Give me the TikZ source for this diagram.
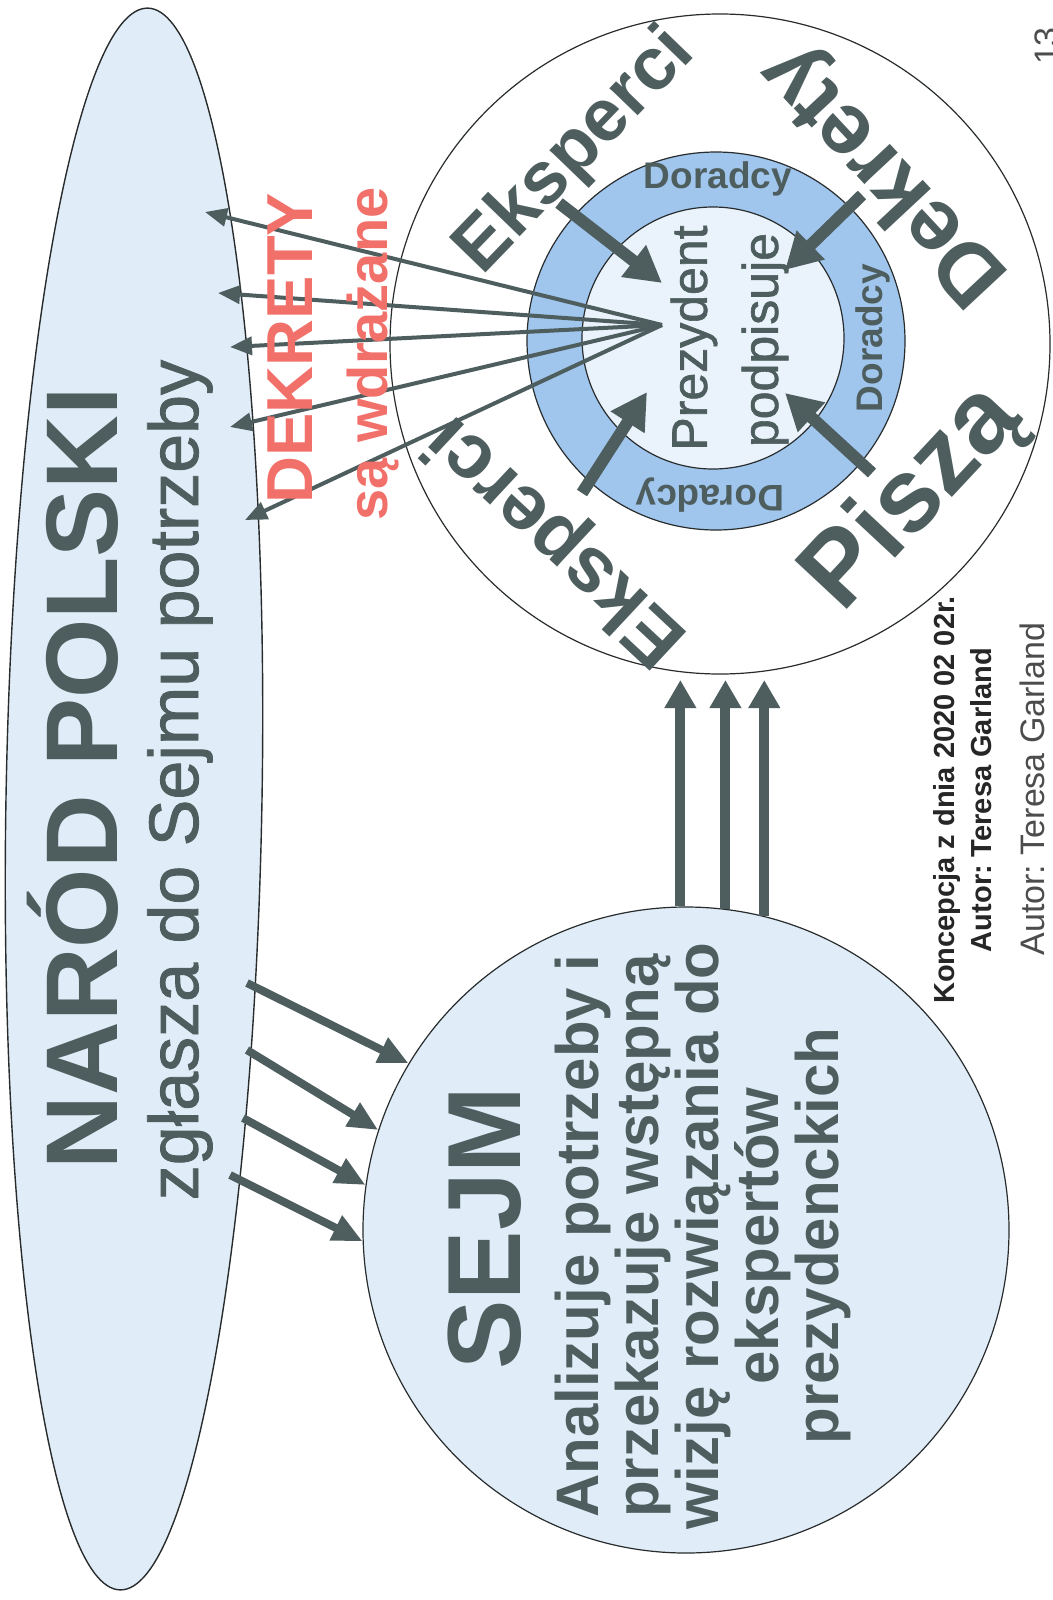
\documentclass[tikz,border=0pt]{standalone}
\usepackage{fontspec}
\setmainfont{Liberation Sans}
\newfontfamily\thick[FakeBold=1.2]{Liberation Sans}
\usetikzlibrary{shapes.geometric,arrows.meta}
\definecolor{slate}{RGB}{78,94,94}
\definecolor{outline}{RGB}{40,44,44}
\definecolor{paleblue}{RGB}{224,236,248}
\definecolor{ringblue}{RGB}{160,198,238}
\definecolor{coreblue}{RGB}{234,242,251}
\definecolor{salmon}{RGB}{242,112,106}
\newcommand{\fs}[1]{\fontsize{#1}{#1}\selectfont}
\frenchspacing

\begin{document}
\begin{tikzpicture}[x=1pt,y=-1pt]
	\tikzset{blob/.style = {draw=outline, line width=1.4pt, fill=paleblue, inner sep=0pt}}
	\tikzset{disc/.style = {circle, draw=outline, line width=1.2pt, inner sep=0pt}}
	\tikzset{word/.style = {text=slate, inner sep=0pt}}
	\tikzset{fanarrow/.style = {draw=slate, line width=4pt, -{Triangle[length=22pt,width=18pt]}}}
	\tikzset{pusharrow/.style = {draw=slate, line width=8pt, -{Triangle[length=30pt,width=26pt]}}}
	\tikzset{uparrow/.style = {draw=slate, line width=10pt, -{Triangle[length=28pt,width=30pt]}}}
	\tikzset{inarrow/.style = {draw=slate, line width=12pt, -{Triangle[length=36pt,width=38pt]}}}
	\useasboundingbox (0,0) rectangle (1052,1600);
	% shapes
	\node[blob, ellipse, minimum width=256pt, minimum height=1582pt, rotate=-1] (narod) at (134,799) {};
	\node[blob, disc, minimum size=646pt] (sejm) at (686,1230) {};
	\node[disc, fill=white, minimum size=660pt] (prez) at (720,344) {};
	\node[disc, fill=ringblue, minimum size=378pt] (doradcy) at (716,341) {};
	\node[disc, fill=coreblue, minimum size=262pt] (rdzen) at (713,338) {};
	% dekrety fan
	\coordinate (fan) at (662,325);
	\foreach \i/\tx/\ty in {1/205/212, 2/218/293, 3/230/347, 4/230/427, 5/245/520} {
		\coordinate (dek\i) at (\tx,\ty);
		\draw[fanarrow] (fan) -- (dek\i);
	}
	% needs to the sejm
	\foreach \i/\sx/\sy/\a in {1/247/983/149, 2/247/1050/162, 3/243/1118/172, 4/230/1175/182} {
		\coordinate (zg\i) at (\sx,\sy);
		\draw[pusharrow] (zg\i) -- (sejm.\a);
	}
	% sejm to the experts
	\coordinate (tipline) at (0,680);
	\foreach \a in {91.1, 83.6, 76.4}
		\draw[uparrow] (sejm.\a) -- (sejm.\a |- tipline);
	% into the president
	\coordinate (ek1) at (559,203);  \coordinate (pz1) at (662,283);
	\coordinate (dk1) at (862,195);  \coordinate (pz2) at (785,270);
	\coordinate (ps1) at (872,473);  \coordinate (pz3) at (785,393);
	\coordinate (ek2) at (582,493);  \coordinate (pz4) at (647,392);
	\draw[inarrow] (ek1) -- (pz1);
	\draw[inarrow] (dk1) -- (pz2);
	\draw[inarrow] (ps1) -- (pz3);
	\draw[inarrow] (ek2) -- (pz4);
	% texts
	\node[word, rotate=90, anchor=base, font=\fs{102}\bfseries] (narodtxt) at (117,778) {NARÓD POLSKI};
	\node[word, rotate=90, anchor=base, font=\fs{70}\thick] (zglasza) at (198,780) {zgłasza do Sejmu potrzeby};
	\node[word, text=salmon, rotate=90, anchor=base, font=\fs{65}\bfseries] (dekrety) at (312,348) {DEKRETY};
	\node[word, text=salmon, rotate=90, anchor=base, font=\fs{56}\bfseries] (wdrazane) at (387,354) {są wdrażane};
	\node[word, font=\fs{37}\bfseries] (dor1) at (718,179) {Doradcy};
	\node[word, rotate=90, font=\fs{37}\bfseries] (dor2) at (873,338) {Doradcy};
	\node[word, rotate=180, font=\fs{37}\bfseries] (dor3) at (710,495) {Doradcy};
	\node[word, rotate=90, font=\fs{50}\thick] (prezydent) at (694,338) {Prezydent};
	\node[word, rotate=90, font=\fs{50}\thick] (podpisuje) at (765,340) {podpisuje};
	\node[word, rotate=46, font=\fs{74}\bfseries] (eksp1) at (576,152) {Eksperci};
	\node[word, rotate=137, font=\fs{78}\bfseries] (eksp2) at (558,539) {Eksperci};
	\node[word, rotate=47, font=\fs{104}\bfseries] (pisza) at (914,499) {Piszą};
	\node[word, rotate=133, font=\fs{87}\bfseries] (dekr) at (886,173) {Dekrety};
	\node[word, rotate=90, anchor=base, font=\fs{104}\bfseries] (sejmtxt) at (520,1228) {SEJM};
	\node[word, rotate=90, align=center, font=\fs{60}\bfseries] (analiza) at (703,1236)
		{Analizuje potrzeby i\\przekazuje wstępną\\wizję rozwiązania do\\ekspertów\\prezydenckich};
	\node[word, text=black!85, rotate=90, align=center, font=\fontsize{29}{37}\selectfont\bfseries] (koncepcja) at (963,800)
		{Koncepcja z dnia 2020 02 02r.\\Autor: Teresa Garland};
	\node[word, text=black!70, rotate=90, anchor=base, font=\fs{34}] (autor) at (1044,789) {Autor: Teresa Garland};
	\node[word, text=black!70, rotate=90, font=\fs{34}] (strona) at (1047,46) {13};
\end{tikzpicture}
\end{document}
